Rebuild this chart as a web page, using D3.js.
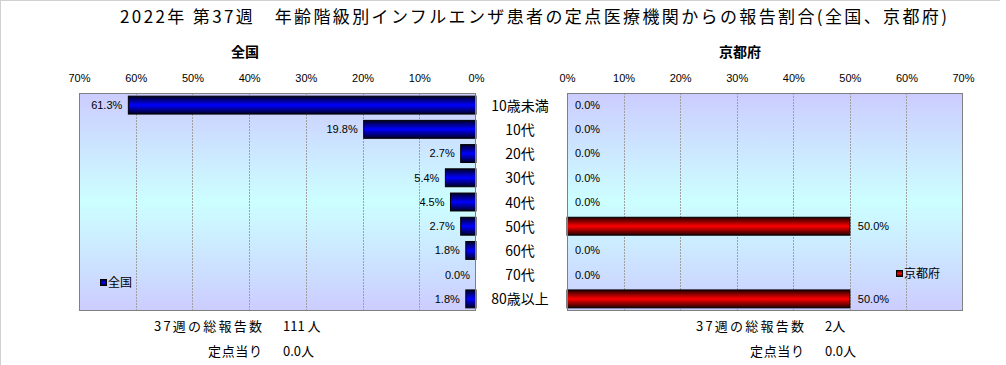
<!DOCTYPE html>
<html>
<head>
<meta charset="utf-8">
<script src="https://cdn.jsdelivr.net/npm/d3@7"></script>
<style>
  body { margin: 0; background: #fff; }
  svg { display: block; font-family: "Noto Sans CJK JP", "DejaVu Sans", sans-serif; }
</style>
</head>
<body>
<script>
// data
var ageGroups = ["10歳未満", "10代", "20代", "30代", "40代", "50代", "60代", "70代", "80歳以上"];
var nationalPct = [61.3, 19.8, 2.7, 5.4, 4.5, 2.7, 1.8, 0.0, 1.8];
var kyotoPct = [0.0, 0.0, 0.0, 0.0, 0.0, 50.0, 0.0, 0.0, 50.0];
var pctTicks = [0, 10, 20, 30, 40, 50, 60, 70];
var nationalTotal = "111 人";
var nationalPerSite = "0.0人";
var kyotoTotal = "2人";
var kyotoPerSite = "0.0人";

var svgWidth = 1006;
var svgHeight = 365;

var svg = d3.select("body")
  .append("svg")
  .attr("width", svgWidth)
  .attr("height", svgHeight);

var defs = svg.append("defs");

// plot background gradient (lavender -> cyan -> lavender)
var bg = defs.append("linearGradient")
  .attr("id", "bgGrad").attr("x1", 0).attr("y1", 0).attr("x2", 0).attr("y2", 1);
bg.append("stop").attr("offset", "0%").attr("stop-color", "#ccccff");
bg.append("stop").attr("offset", "50%").attr("stop-color", "#ccffff");
bg.append("stop").attr("offset", "100%").attr("stop-color", "#ccccff");

function barGradient(id, edge, mid) {
  var g = defs.append("linearGradient")
    .attr("id", id).attr("x1", 0).attr("y1", 0).attr("x2", 0).attr("y2", 1);
  g.append("stop").attr("offset", "0%").attr("stop-color", edge);
  g.append("stop").attr("offset", "50%").attr("stop-color", mid);
  g.append("stop").attr("offset", "100%").attr("stop-color", edge);
}
barGradient("blueGrad", "#000022", "#0000ff");
barGradient("redGrad", "#220000", "#ff0000");

// outer frame lines (top and left)
svg.append("line").attr("x1", 0).attr("y1", 0.5).attr("x2", 1000).attr("y2", 0.5)
  .attr("stroke", "#d0d0d0");
svg.append("line").attr("x1", 0.5).attr("y1", 0).attr("x2", 0.5).attr("y2", svgHeight)
  .attr("stroke", "#d0d0d0");

// title
svg.append("text")
  .attr("x", 120).attr("y", 23)
  .attr("textLength", 827)
  .attr("lengthAdjust", "spacing")
  .style("font-size", "17px")
  .text("2022年 第37週　年齢階級別インフルエンザ患者の定点医療機関からの報告割合(全国、京都府)");

var plotTop = 93, plotBottom = 311;

var yScale = d3.scaleBand()
  .domain(ageGroups)
  .range([plotTop, plotBottom])
  .paddingInner(0.26)
  .paddingOuter(0.13);

// panels: national goes right-to-left, Kyoto left-to-right
var panels = [
  { name: "全国", values: nationalPct, x0: 79, x1: 476, reversed: true, fill: "url(#blueGrad)",
    legendX: 100, legendY: 283, titleX: 245,
    totalX: 262, valueX: 283, total: nationalTotal, perSite: nationalPerSite },
  { name: "京都府", values: kyotoPct, x0: 567, x1: 963, reversed: false, fill: "url(#redGrad)",
    legendX: 896, legendY: 274, titleX: 740,
    totalX: 804, valueX: 825, total: kyotoTotal, perSite: kyotoPerSite }
];

panels.forEach(function(p) {
  var xScale = d3.scaleLinear()
    .domain([0, 70])
    .range(p.reversed ? [p.x1, p.x0] : [p.x0, p.x1]);

  var rows = ageGroups.map(function(a, i) { return { age: a, value: p.values[i] }; });

  var g = svg.append("g");

  // background
  g.append("rect")
    .attr("x", p.x0).attr("y", plotTop)
    .attr("width", p.x1 - p.x0).attr("height", plotBottom - plotTop)
    .attr("fill", "url(#bgGrad)");

  // gridlines
  g.selectAll(".grid")
    .data(pctTicks.filter(function(t) { return t > 0 && t < 70; }))
    .enter()
    .append("line")
    .attr("x1", function(d) { return Math.round(xScale(d)) + 0.5; })
    .attr("x2", function(d) { return Math.round(xScale(d)) + 0.5; })
    .attr("y1", plotTop).attr("y2", plotBottom)
    .attr("stroke", "#a0a0a0")
    .attr("stroke-dasharray", "2,1");

  // top axis labels
  var axis = d3.axisTop(xScale)
    .tickValues(pctTicks)
    .tickSize(0)
    .tickPadding(0)
    .tickFormat(function(d) { return d + "%"; });
  var ax = g.append("g")
    .attr("transform", "translate(0," + (plotTop - 11) + ")")
    .call(axis);
  ax.select(".domain").remove();
  ax.selectAll("text")
    .style("font-size", "11px")
    .style("font-family", "\"Liberation Sans\", sans-serif")
    .attr("fill", "#000");

  // bars
  g.selectAll(".bar")
    .data(rows.filter(function(r) { return r.value > 0; }))
    .enter()
    .append("rect")
    .attr("x", function(d) { return Math.min(xScale(0), xScale(d.value)); })
    .attr("y", function(d) { return yScale(d.age); })
    .attr("width", function(d) { return Math.abs(xScale(d.value) - xScale(0)); })
    .attr("height", yScale.bandwidth())
    .attr("fill", p.fill)
    .attr("stroke", "#000")
    .attr("stroke-width", 1);

  // plot border
  g.append("rect")
    .attr("x", p.x0 + 0.5).attr("y", plotTop + 0.5)
    .attr("width", p.x1 - p.x0 - 1).attr("height", plotBottom - plotTop - 1)
    .attr("fill", "none")
    .attr("stroke", "#808080");

  // value labels
  g.selectAll(".val")
    .data(rows)
    .enter()
    .append("text")
    .attr("x", function(d) { return p.reversed ? xScale(d.value) - 6 : xScale(d.value) + 8; })
    .attr("y", function(d) { return yScale(d.age) + yScale.bandwidth() / 2; })
    .attr("dy", "0.35em")
    .attr("text-anchor", p.reversed ? "end" : "start")
    .style("font-size", "11px")
    .style("font-family", "\"Liberation Sans\", sans-serif")
    .text(function(d) { return d.value.toFixed(1) + "%"; });

  // panel title
  svg.append("text")
    .attr("x", p.titleX).attr("y", 57)
    .attr("text-anchor", "middle")
    .style("font-size", "14px")
    .style("font-weight", "bold")
    .text(p.name);

  // legend
  var lg = g.append("g").attr("transform", "translate(" + p.legendX + "," + p.legendY + ")");
  lg.append("rect")
    .attr("x", 0.5).attr("y", -3.5).attr("width", 6).attr("height", 6)
    .attr("fill", p.fill).attr("stroke", "#000");
  lg.append("text")
    .attr("x", 8).attr("y", 0).attr("dy", "0.35em")
    .style("font-size", "12px")
    .text(p.name);

  // footer
  svg.append("text")
    .attr("x", p.totalX - 108).attr("y", 331)
    .attr("textLength", 108).attr("lengthAdjust", "spacing")
    .style("font-size", "13px")
    .text("37週の総報告数");
  svg.append("text")
    .attr("x", p.valueX).attr("y", 331)
    .style("font-size", "13px")
    .text(p.total);
  svg.append("text")
    .attr("x", p.totalX - 54).attr("y", 356)
    .attr("textLength", 54).attr("lengthAdjust", "spacing")
    .style("font-size", "13px")
    .text("定点当り");
  svg.append("text")
    .attr("x", p.valueX).attr("y", 356)
    .style("font-size", "13px")
    .text(p.perSite);
});

// category labels in the middle
svg.append("g")
  .selectAll("text")
  .data(ageGroups)
  .enter()
  .append("text")
  .attr("x", 520)
  .attr("y", function(d) { return yScale(d) + yScale.bandwidth() / 2; })
  .attr("dy", "0.4em")
  .attr("text-anchor", "middle")
  .style("font-size", "14px")
  .text(function(d) { return d; });
</script>
</body>
</html>
